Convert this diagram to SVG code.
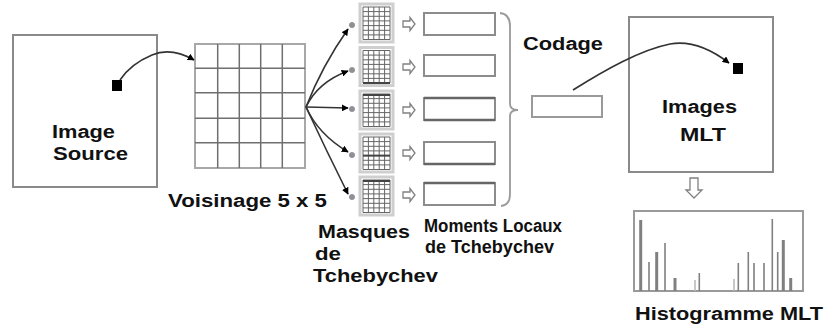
<svg xmlns="http://www.w3.org/2000/svg" width="828" height="332" viewBox="0 0 828 332">
  <style>
    .lbl { font-family: "Liberation Sans", Arial, sans-serif; font-weight: bold; font-size: 18px; fill: #111; }
    .frame { fill: #fff; stroke: #8a8a8a; stroke-width: 2; }
    .cell { stroke: #6f6f6f; stroke-width: 1.5; fill: none; }
    .mline { stroke: #666; stroke-width: 1; fill: none; }
    .mdark { stroke: #444; stroke-width: 2; fill: none; }
    .box { fill: #fff; stroke: #8c8c8c; stroke-width: 2; }
    .boxdark { stroke: #666; stroke-width: 2.5; fill: none; }
    .wire { fill: none; stroke: #333; stroke-width: 1.6; }
    .hollow { fill: #fff; stroke: #808080; stroke-width: 1.3; }
    .bar { stroke: #808080; stroke-width: 1.6; }
    .barw { stroke: #808080; stroke-width: 3; }
    .dot { fill: #9a8f86; stroke: #7a8fa8; stroke-width: 0.8; }
  </style>
  <defs>
    <marker id="head" viewBox="0 0 10 10" refX="9" refY="5" markerWidth="7" markerHeight="7" markerUnits="userSpaceOnUse" orient="auto">
      <path d="M0,0 L10,5 L0,10 Z" fill="#000"/>
    </marker>
    <!-- polynomial mask: small cell grid inside a grey frame -->
    <g id="maskGrid">
      <rect x="0" y="0" width="33" height="38" fill="#fff" stroke="#cfcfcf" stroke-width="3"/>
      <path class="mline" d="M3,3 V35.5 M8.4,3 V35.5 M13.8,3 V35.5 M19.2,3 V35.5 M24.6,3 V35.5 M30,3 V35.5"/>
      <path class="mline" d="M3,3 H30 M3,7.6 H30 M3,12.3 H30 M3,16.9 H30 M3,21.6 H30 M3,26.3 H30 M3,30.9 H30 M3,35.5 H30"/>
    </g>
    <!-- hollow right arrow -->
    <path id="hollowRight" class="hollow" d="M0,-3 H7 V-6.5 L12,0 L7,6.5 V3 H0 Z"/>
  </defs>

  <rect width="828" height="332" fill="#fff"/>

  <!-- source image -->
  <g id="image-source">
    <rect class="frame" x="13" y="35" width="144" height="152"/>
    <rect x="112" y="80" width="10" height="11" fill="#000"/>
    <text class="lbl" x="52" y="138" textLength="63" lengthAdjust="spacingAndGlyphs">Image</text>
    <text class="lbl" x="53" y="160" textLength="75" lengthAdjust="spacingAndGlyphs">Source</text>
  </g>

  <!-- 5x5 neighbourhood -->
  <g id="voisinage">
    <rect x="195" y="44" width="110" height="124" fill="#fff" stroke="#a8a8a8" stroke-width="2"/>
    <path class="cell" d="M217.7,44 V168 M239.3,44 V168 M282.3,44 V168"/>
    <path class="cell" d="M260.7,44 V168" stroke="#555" stroke-width="2"/>
    <path class="cell" d="M195,68.3 H305 M195,92.7 H305 M195,118.3 H305 M195,142.7 H305"/>
    <text class="lbl" x="168" y="207" textLength="159" lengthAdjust="spacingAndGlyphs">Voisinage 5 x 5</text>
  </g>

  <!-- Tchebychev masks -->
  <g id="masques">
    <use href="#maskGrid" x="360" y="4"/>
    <use href="#maskGrid" x="360" y="47.5"/>
    <path class="mdark" d="M363,83 H390"/>
    <use href="#maskGrid" x="360" y="91"/>
    <path class="mdark" d="M363,95 H390"/>
    <use href="#maskGrid" x="360" y="134"/>
    <path class="mdark" d="M363,155.6 H390"/>
    <use href="#maskGrid" x="360" y="177"/>
    <path class="mdark" d="M363,181 H390"/>
    <circle class="dot" cx="352" cy="25" r="2.6"/>
    <circle class="dot" cx="352" cy="70" r="2.6"/>
    <circle class="dot" cx="352" cy="109" r="2.6"/>
    <circle class="dot" cx="352" cy="155" r="2.6"/>
    <circle class="dot" cx="352" cy="197" r="2.6"/>
    <text class="lbl" x="318" y="238" textLength="92" lengthAdjust="spacingAndGlyphs">Masques</text>
    <text class="lbl" x="315" y="260" textLength="26" lengthAdjust="spacingAndGlyphs">de</text>
    <text class="lbl" x="313" y="282" textLength="125" lengthAdjust="spacingAndGlyphs">Tchebychev</text>
  </g>

  <!-- local moments -->
  <g id="moments">
    <use href="#hollowRight" x="403" y="24"/>
    <use href="#hollowRight" x="403" y="67"/>
    <use href="#hollowRight" x="403" y="110"/>
    <use href="#hollowRight" x="403" y="153"/>
    <use href="#hollowRight" x="403" y="195"/>
    <rect class="box" x="424" y="13" width="71" height="22"/>
    <rect class="box" x="424" y="55" width="71" height="21"/>
    <rect class="box" x="424" y="98" width="71" height="22"/>
    <path class="boxdark" d="M424,98 H495 M424,120 H495"/>
    <rect class="box" x="424" y="142" width="71" height="22"/>
    <path class="boxdark" d="M424,164 H495"/>
    <rect class="box" x="424" y="183" width="71" height="22"/>
    <path class="boxdark" d="M424,183 H495"/>
    <path d="M500,13 Q510,14 510,26 V104 Q510,110 518,110 Q510,110 510,116 V194 Q510,205 501,206" fill="none" stroke="#9a9a9a" stroke-width="1.8"/>
    <text class="lbl" x="424" y="232" textLength="138" lengthAdjust="spacingAndGlyphs">Moments Locaux</text>
    <text class="lbl" x="425" y="253" textLength="129" lengthAdjust="spacingAndGlyphs">de Tchebychev</text>
  </g>

  <!-- coding -->
  <g id="codage">
    <text class="lbl" x="523" y="50" textLength="80" lengthAdjust="spacingAndGlyphs">Codage</text>
    <rect x="532" y="96" width="70" height="21" fill="#fff" stroke="#9a9a9a" stroke-width="2"/>
  </g>

  <!-- MLT image -->
  <g id="images-mlt">
    <rect class="frame" x="629" y="17" width="144" height="155"/>
    <rect x="733" y="63" width="10" height="11" fill="#000"/>
    <text class="lbl" x="662" y="113" textLength="75" lengthAdjust="spacingAndGlyphs">Images</text>
    <text class="lbl" x="680" y="141" textLength="46" lengthAdjust="spacingAndGlyphs">MLT</text>
    <path class="hollow" d="M690,178 V190 H686 L694,198 L702,190 H698 V178 Z"/>
  </g>

  <!-- MLT histogram -->
  <g id="histogramme">
    <rect x="634" y="211" width="169" height="80" fill="#fff" stroke="#9a9a9a" stroke-width="2"/>
    <path class="barw" d="M640.7,291 V220 M656.7,291 V252 M675,291 V278 M783.3,291 V240 M790.7,291 V278"/>
    <path class="bar" d="M649,291 V262 M665,291 V243 M699.3,291 V273 M738.3,291 V263 M748.3,291 V252 M754,291 V263 M764,291 V263 M772.3,291 V219 M777.7,291 V252"/>
    <path d="M695,291 V280 M734,291 V279" stroke="#bbb" stroke-width="1.6"/>
    <text class="lbl" x="635" y="320" textLength="188" lengthAdjust="spacingAndGlyphs">Histogramme MLT</text>
  </g>

  <!-- connectors -->
  <g id="connectors">
    <path class="wire" d="M120,80 C128,68 140,60 152,55 C166,49 180,52 194,60" marker-end="url(#head)"/>
    <path class="wire" d="M306,107 Q322,66 348,29" marker-end="url(#head)"/>
    <path class="wire" d="M306,107 Q318,82 348,71" marker-end="url(#head)"/>
    <path class="wire" d="M306,107 L348,108" marker-end="url(#head)"/>
    <path class="wire" d="M306,107 Q318,134 348,152" marker-end="url(#head)"/>
    <path class="wire" d="M306,107 Q326,150 348,194" marker-end="url(#head)"/>
    <path class="wire" d="M573,90 C605,70 640,50 670,44 C692,40 712,50 729,63" marker-end="url(#head)"/>
  </g>
</svg>
